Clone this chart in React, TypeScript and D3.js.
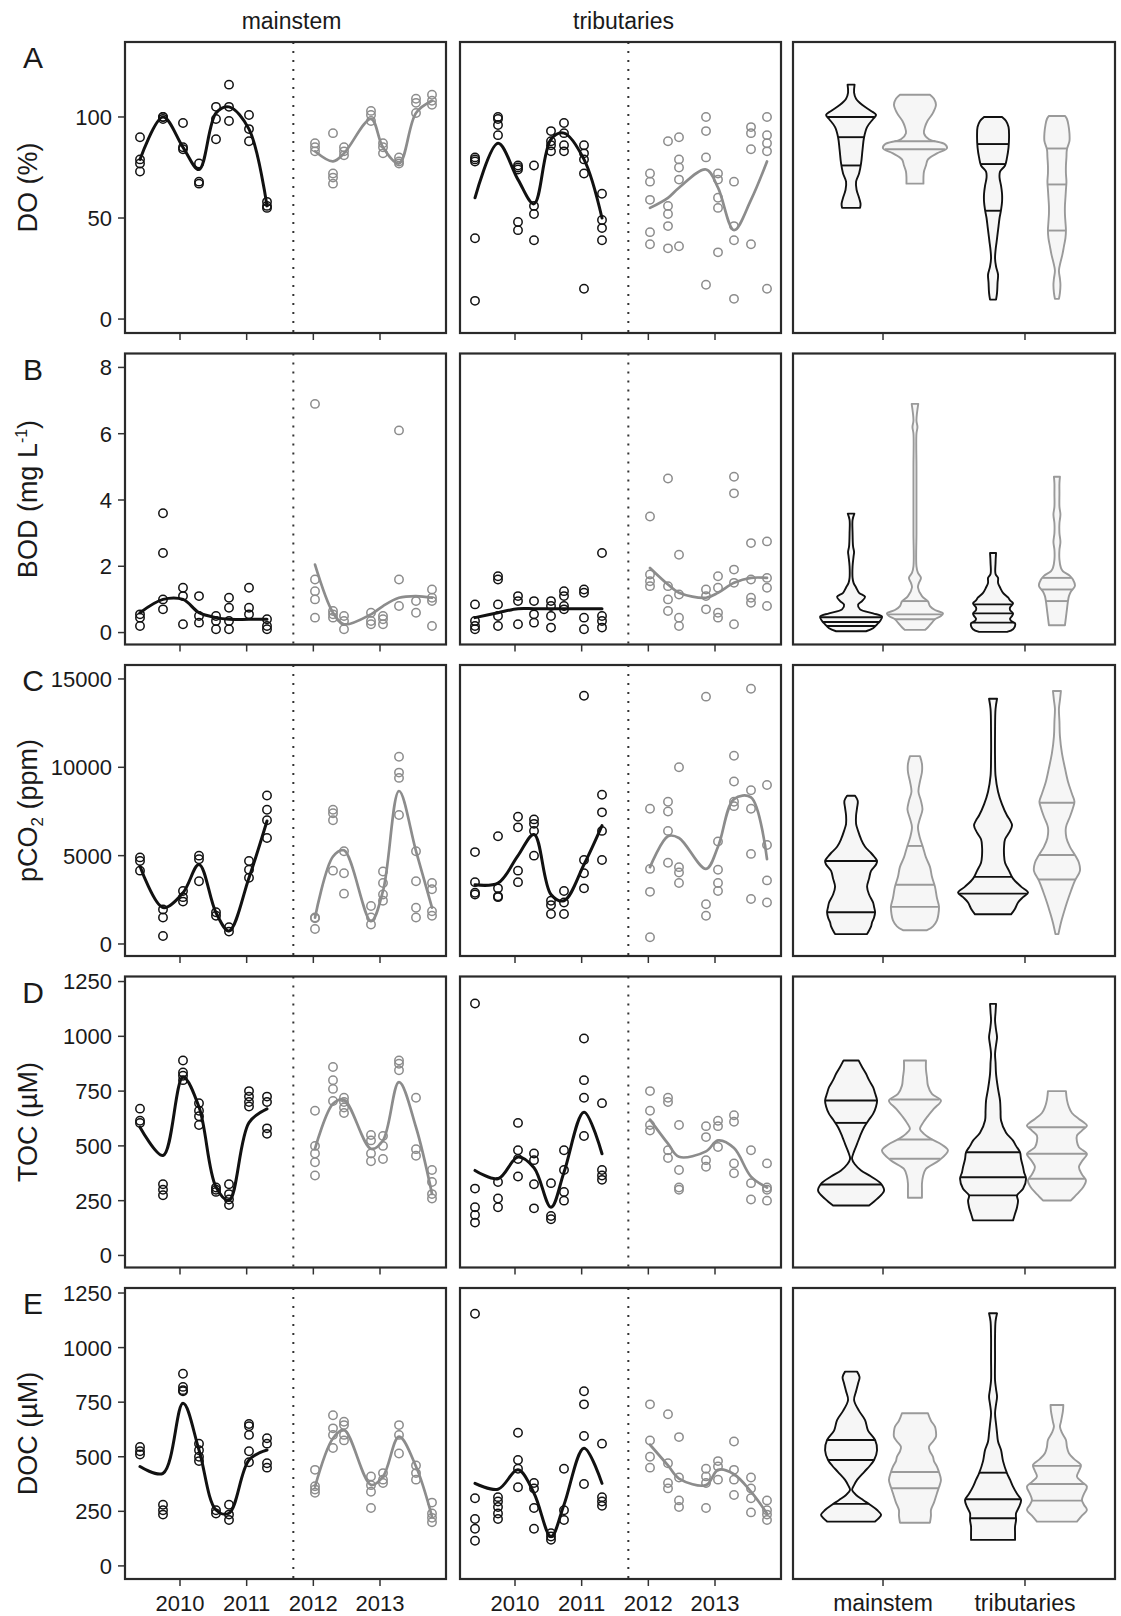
import React from "react";
import * as d3 from "d3";

const FONT = "'Liberation Sans', Arial, Helvetica, sans-serif";

// ---------- shared axes ----------
const datesEarly = [2009.4, 2009.745, 2010.045, 2010.285, 2010.54, 2010.735, 2011.035, 2011.305];
const datesLate = [2012.025, 2012.295, 2012.46, 2012.865, 2013.045, 2013.285, 2013.54, 2013.78];
const yearTicks = [2010, 2011, 2012, 2013];
const timeDomain = [2009.175, 2013.99];
const breakYear = 2011.7;
const siteLabels = ["mainstem", "tributaries"];
const panelLetters = ["A", "B", "C", "D", "E"];

const doTicks = [0, 50, 100];
const bodTicks = [0, 2, 4, 6, 8];
const pco2Ticks = [0, 5000, 10000, 15000];
const tocTicks = [0, 250, 500, 750, 1000, 1250];
const docTicks = [0, 250, 500, 750, 1000, 1250];

const doDomain = [-6.9, 137.1];
const bodDomain = [-0.36, 8.42];
const pco2Domain = [-680, 15790];
const tocDomain = [-55, 1273];
const docDomain = [-60, 1273];

// ---------- DO (%) ----------
const doMsEarly = [[90, 79, 77, 73], [100, 100, 99], [97, 85, 84], [77, 68, 67], [105, 99, 89], [116, 105, 98], [101, 94, 88], [58, 56, 55]];
const doMsEarlyFit = [79, 100, 85, 74, 102, 105, 94, 56];
const doMsLate = [[87, 85, 83], [92, 72, 70, 67], [85, 83, 81], [103, 101, 98], [87, 85, 82], [80, 78, 77], [109, 107, 102], [111, 108, 106]];
const doMsLateFit = [83, 78, 82, 99, 85, 77, 102, 108];
const doTrEarly = [[80, 79, 78, 40, 9], [100, 99, 96, 91], [76, 75, 74, 48, 44], [76, 56, 52, 39], [93, 88, 86, 83], [97, 92, 86, 83], [86, 82, 79, 72, 15], [62, 49, 45, 39]];
const doTrEarlyFit = [60, 87, 69, 57, 89, 92, 79, 50];
const doTrLate = [[72, 68, 59, 43, 37], [88, 56, 52, 46, 35], [90, 79, 75, 69, 36], [100, 93, 80, 17], [72, 69, 60, 55, 33], [68, 46, 39, 10], [95, 92, 84, 37], [100, 91, 87, 83, 15]];
const doTrLateFit = [55, 60, 65, 74, 65, 44, 59, 78];

// ---------- BOD (mg/L) ----------
const bodMsEarly = [[0.55, 0.45, 0.2], [3.6, 2.4, 1.0, 0.7], [1.35, 1.1, 0.25], [1.1, 0.5, 0.3], [0.5, 0.35, 0.1], [1.05, 0.75, 0.35, 0.1], [1.35, 0.75, 0.55], [0.4, 0.2, 0.1]];
const bodMsEarlyFit = [0.6, 1.0, 1.0, 0.6, 0.45, 0.4, 0.4, 0.4];
const bodMsLate = [[6.9, 1.6, 1.25, 1.0, 0.45], [0.65, 0.55, 0.45], [0.5, 0.35, 0.1], [0.6, 0.35, 0.25], [0.5, 0.4, 0.25], [6.1, 1.6, 0.8], [0.95, 0.6], [1.3, 1.05, 0.95, 0.2]];
const bodMsLateFit = [2.05, 0.6, 0.25, 0.55, 0.8, 1.05, 1.1, 1.05];
const bodTrEarly = [[0.85, 0.35, 0.2, 0.1], [1.7, 1.6, 0.85, 0.5, 0.2], [1.1, 0.95, 0.25], [0.95, 0.55, 0.3], [0.95, 0.8, 0.5, 0.15], [1.25, 1.1, 0.8, 0.7], [1.3, 1.2, 0.45, 0.1], [2.4, 0.5, 0.35, 0.15]];
const bodTrEarlyFit = [0.45, 0.6, 0.72, 0.72, 0.72, 0.72, 0.72, 0.72];
const bodTrLate = [[3.5, 1.75, 1.55, 1.4], [4.65, 1.4, 1.0, 0.65], [2.35, 1.15, 0.45, 0.2], [1.3, 1.1, 0.7], [1.7, 1.35, 0.6, 0.45], [4.7, 4.2, 1.9, 1.5, 0.25], [2.7, 1.6, 1.05, 0.9], [2.75, 1.65, 1.35, 0.8]];
const bodTrLateFit = [1.95, 1.45, 1.2, 1.05, 1.2, 1.5, 1.65, 1.65];

// ---------- pCO2 (ppm) ----------
const pcMsEarly = [[4900, 4700, 4150], [1950, 1500, 450], [3000, 2650, 2400], [5000, 4800, 3550], [1800, 1600], [950, 700], [4700, 4200, 3750], [8400, 7600, 7000, 6000]];
const pcMsEarlyFit = [4400, 2060, 2900, 4500, 1770, 740, 3750, 6960];
const pcMsLate = [[1500, 1450, 850], [7600, 7400, 7000, 4150], [5250, 4000, 2850], [2150, 1500, 1100], [4100, 3450, 2800, 2450], [10600, 9700, 9400, 7300], [5250, 3550, 2050, 1500], [3450, 3100, 1850, 1600]];
const pcMsLateFit = [1490, 4950, 5300, 1300, 3000, 8660, 5260, 2060];
const pcTrEarly = [[5200, 3500, 2900, 2800], [6100, 3150, 2700, 2650], [7200, 6600, 4150, 3500], [7050, 6800, 6400, 5000], [2450, 2200, 1700], [3000, 2350, 1700], [14050, 4750, 4000, 3150], [8450, 7450, 6400, 4750]];
const pcTrEarlyFit = [3350, 3450, 5000, 6200, 2800, 2450, 4500, 6700];
const pcTrLate = [[7650, 4250, 2950, 380], [8050, 7500, 6400, 4600], [10000, 4350, 4050, 3450], [14000, 2250, 1600], [5800, 4200, 3450, 3000], [10650, 9200, 8050, 7800], [14450, 8700, 7650, 5100, 2550], [9000, 5600, 3600, 2350]];
const pcTrLateFit = [4350, 6100, 6000, 4250, 5500, 8200, 8300, 4800];

// ---------- TOC (uM) ----------
const tocMsEarly = [[670, 615, 605], [325, 300, 275], [890, 835, 820, 800], [695, 660, 635, 595], [310, 300, 290], [325, 280, 255, 230], [750, 725, 700, 680], [725, 700, 580, 555]];
const tocMsEarlyFit = [585, 456, 813, 677, 312, 251, 606, 669];
const tocMsLate = [[660, 500, 465, 425, 365], [860, 800, 760, 705], [720, 700, 675, 650], [550, 525, 465, 430], [545, 500, 440], [890, 875, 845], [720, 485, 455], [390, 335, 280, 260]];
const tocMsLateFit = [487, 692, 710, 487, 525, 791, 585, 281];
const tocTrEarly = [[1150, 305, 220, 185, 150], [335, 260, 220], [605, 480, 440, 360], [465, 435, 325, 215], [330, 180, 165], [480, 390, 290, 250], [990, 800, 720, 545], [695, 390, 365, 345]];
const tocTrEarlyFit = [388, 350, 449, 400, 220, 380, 654, 464];
const tocTrLate = [[750, 660, 595, 570], [720, 700, 480, 445], [595, 390, 310, 300], [590, 540, 435, 405], [615, 590, 495], [640, 610, 420, 375], [480, 330, 255], [420, 310, 300, 250]];
const tocTrLateFit = [620, 510, 450, 475, 525, 490, 360, 310];

// ---------- DOC (uM) ----------
const docMsEarly = [[545, 525, 510], [280, 255, 235], [880, 820, 805, 800], [560, 530, 500, 480], [255, 240], [280, 235, 210], [650, 640, 600, 525, 475], [585, 560, 470, 450]];
const docMsEarlyFit = [455, 424, 745, 531, 256, 241, 485, 531];
const docMsLate = [[440, 365, 350, 335], [690, 630, 600, 540], [660, 645, 600, 575], [410, 370, 340, 265], [425, 395, 380], [645, 600, 515], [460, 425, 395], [290, 240, 220, 200]];
const docMsLateFit = [363, 585, 623, 371, 409, 592, 455, 226];
const docTrEarly = [[1155, 310, 215, 170, 115], [315, 295, 270, 240, 215], [610, 485, 445, 360], [380, 355, 265, 170], [150, 135, 120], [445, 255, 210], [800, 740, 595, 375], [560, 315, 295, 275]];
const docTrEarlyFit = [378, 351, 440, 333, 134, 280, 539, 378];
const docTrLate = [[740, 575, 500, 450], [695, 470, 380, 355], [590, 405, 300, 270], [445, 410, 380, 265], [480, 455, 395], [570, 440, 395, 325], [405, 355, 310, 245], [300, 255, 235, 210]];
const docTrLateFit = [555, 460, 400, 370, 440, 420, 340, 240];

// ---------- violins: [value, relative density], quartile lines ----------
const vDoMsE = [[55, 9], [57, 9.5], [60, 8], [64, 5.5], [68, 5], [72, 8], [77, 10], [84, 11.5], [90, 13], [95, 16], [99, 22], [101, 25], [103, 20], [106, 11], [109, 5], [112, 3], [116, 3.5]];
const qDoMsE = [76, 90, 100];
const vDoMsL = [[67, 8.5], [70, 8.5], [73, 9], [76, 11], [79, 13], [82, 22], [84.5, 32], [86.5, 30], [89, 14], [92, 9], [95, 10], [98, 12.5], [102, 18], [106, 21], [109, 19], [111, 15]];
const qDoMsL = [84, 88];
const vDoTrE = [[9.6, 3], [13, 4], [18, 4.5], [22, 5], [26, 3], [30, 2], [34, 2.5], [38, 3.5], [42, 4.5], [46, 5.5], [50, 6.5], [54, 8], [58, 9], [62, 9], [66, 8], [70, 6.5], [73, 7], [76, 12], [80, 14], [85, 15.5], [90, 16], [95, 15.5], [98, 13], [100, 9]];
const qDoTrE = [53.6, 76.7, 86.6];
const vDoTrL = [[10, 2], [13, 3], [17, 3.5], [20, 3], [24, 2], [28, 3.5], [32, 5.5], [36, 7], [40, 8.5], [44, 9], [48, 8.5], [52, 8], [56, 8], [60, 8.5], [64, 9], [68, 9.5], [72, 9], [76, 9], [80, 9.5], [84, 10], [88, 12.5], [92, 12.5], [96, 11.5], [99, 10], [100.5, 8]];
const qDoTrL = [43.8, 66.6, 84.4];

const vBodMsE = [[0.04, 15], [0.13, 22], [0.25, 26], [0.35, 29], [0.48, 31], [0.58, 22], [0.7, 9], [0.84, 7], [0.95, 11], [1.08, 14], [1.2, 8], [1.36, 5], [1.5, 2.5], [1.65, 1.5], [2.0, 1.5], [2.3, 2.5], [2.43, 3], [2.6, 2], [3.0, 1.5], [3.4, 1.5], [3.59, 3.3]];
const qBodMsE = [0.2, 0.32, 0.46];
const vBodMsL = [[0.08, 10], [0.16, 13], [0.3, 17], [0.4, 20], [0.5, 26], [0.58, 28], [0.68, 20], [0.8, 15], [0.94, 13], [1.1, 7], [1.36, 3], [1.5, 4], [1.65, 6], [1.8, 3], [2.0, 1.5], [3, 1.5], [4, 1.5], [5, 1.5], [6.0, 1.5], [6.2, 2.5], [6.4, 1.5], [6.9, 3.3]];
const qBodMsL = [0.4, 0.55, 0.95];
const vBodTrE = [[0.02, 14], [0.1, 20], [0.2, 22], [0.28, 22], [0.35, 18], [0.42, 17], [0.5, 19], [0.58, 20], [0.68, 17], [0.76, 17], [0.88, 20], [0.97, 17], [1.06, 15], [1.2, 10], [1.36, 7], [1.5, 5], [1.65, 5], [1.77, 2.5], [2.1, 2.5], [2.4, 3]];
const qBodTrE = [0.3, 0.58, 0.85];
const vBodTrL = [[0.22, 8], [0.46, 9], [0.7, 10], [0.94, 11], [1.1, 12], [1.24, 14], [1.41, 18], [1.6, 16], [1.71, 13], [1.85, 6], [1.95, 4], [2.2, 2.5], [2.5, 2.5], [2.73, 3.5], [3.0, 2.5], [3.3, 2.5], [3.56, 3.5], [3.8, 2.5], [4.2, 2.5], [4.5, 2.5], [4.7, 3]];
const qBodTrL = [0.95, 1.3, 1.65];

const vPcMsE = [[560, 16], [1000, 20], [1230, 21], [1500, 23], [1790, 24], [2100, 23], [2350, 22], [2800, 18], [3245, 16], [3700, 18], [4140, 20], [4500, 25], [4700, 26], [4950, 23], [5150, 20], [5500, 14], [5930, 10], [6400, 7], [6800, 5], [7270, 5], [7700, 6], [8100, 6.7], [8390, 4]];
const qPcMsE = [1800, 4700];
const vPcMsL = [[780, 12], [1000, 18], [1340, 22], [1700, 23.5], [2125, 24], [2600, 22], [3245, 20], [3800, 17], [4365, 15], [4900, 11], [5480, 8], [6000, 5], [6600, 3], [7100, 5], [7610, 7.5], [8100, 6], [8620, 3.5], [9200, 5], [9735, 7], [10200, 7], [10630, 5]];
const qPcMsL = [2100, 3350, 5550];
const vPcTrE = [[1680, 18], [2000, 22], [2350, 25], [2650, 30], [2910, 35], [3245, 28], [3700, 20], [4140, 16], [4600, 12], [5040, 11], [5500, 11], [5930, 12], [6300, 16], [6710, 19], [7000, 17], [7270, 14], [7900, 9], [8620, 5], [9510, 2.5], [10500, 2], [12000, 2], [13300, 2.5], [13880, 4]];
const qPcTrE = [2850, 3800];
const vPcTrL = [[560, 1.5], [1200, 4], [1800, 7], [2350, 10], [3000, 14], [3580, 18], [4140, 23], [4600, 22], [5040, 18], [5500, 13], [6000, 9.5], [6600, 9], [7200, 13], [7700, 16], [8060, 17.5], [8500, 15], [9200, 11], [9960, 8], [10800, 5], [11750, 3], [12600, 2.5], [13320, 2], [13800, 3], [14320, 4]];
const qPcTrL = [3650, 5040, 7990];

const vTocMsE = [[228, 18], [258, 26], [296, 33], [327, 30], [360, 20], [388, 10], [415, 4], [441, 1], [475, 3], [509, 6], [545, 9], [585, 13], [620, 18], [646, 22], [680, 25], [707, 26], [740, 24], [768, 22], [800, 18], [829, 15], [860, 11], [890, 7.5]];
const qTocMsE = [324, 605, 707];
const vTocMsL = [[263, 7], [300, 7], [327, 7], [360, 8], [395, 11], [433, 24], [479, 33], [505, 27], [532, 16], [555, 9], [578, 5], [605, 8], [631, 12], [670, 19], [707, 26], [737, 17], [775, 13], [813, 12], [850, 11], [890, 11]];
const qTocMsL = [441, 529, 712];
const vTocTrE = [[160, 20], [190, 22], [220, 24], [250, 25], [274, 24], [304, 30], [350, 33], [380, 31], [403, 30], [440, 28], [471, 27], [500, 23], [524, 20], [560, 13], [616, 8], [660, 7.5], [707, 7], [760, 5], [829, 3], [880, 2.5], [920, 2], [960, 3], [996, 4], [1030, 3], [1072, 2], [1110, 2.5], [1148, 3]];
const qTocTrE = [274, 357, 471];
const vTocTrL = [[251, 14], [270, 18], [289, 22], [310, 26], [342, 29], [370, 25], [403, 22], [430, 25], [464, 30], [480, 26], [494, 22], [520, 20], [547, 20], [570, 25], [593, 30], [610, 26], [623, 22], [650, 15], [677, 12], [710, 10], [750, 9]];
const qTocTrL = [350, 464, 585];

const vDocMsE = [[203, 24], [220, 28], [234, 30], [256, 26], [280, 19], [302, 12], [325, 5], [348, 1], [370, 3], [394, 6], [430, 13], [460, 19], [485, 23], [530, 26], [577, 24], [620, 17], [668, 14], [710, 8], [760, 3], [800, 5], [836, 7], [865, 8.5], [890, 6]];
const qDocMsE = [284, 485, 577];
const vDocMsL = [[198, 15], [230, 16], [256, 16], [290, 19], [333, 22], [360, 24], [394, 26], [430, 24], [455, 22], [480, 19], [500, 18], [525, 15], [546, 14], [570, 18], [592, 21], [615, 21], [638, 20], [665, 16], [699, 13]];
const qDocMsL = [356, 430];
const vDocTrE = [[119, 22], [150, 22], [180, 22], [210, 23], [241, 23], [270, 26], [302, 28], [330, 24], [363, 20], [395, 17], [424, 14], [480, 10], [531, 8], [570, 5], [608, 4], [650, 3], [699, 2], [740, 3], [775, 4], [810, 3], [850, 2], [950, 2], [1050, 2], [1120, 2.5], [1157, 4]];
const qDocTrE = [218, 305, 427];
const vDocTrL = [[203, 20], [230, 25], [256, 30], [280, 27], [302, 25], [330, 27], [363, 30], [385, 25], [409, 20], [435, 22], [462, 24], [490, 17], [516, 12], [545, 10], [577, 9], [610, 5], [638, 3], [660, 4], [684, 5], [710, 6], [737, 6.4]];
const qDocTrL = [299, 375, 458];

// ---------- row table built from the arrays ----------
const rows = [
  { domain: doDomain, ticks: doTicks,
    ms: [doMsEarly, doMsEarlyFit, doMsLate, doMsLateFit], tr: [doTrEarly, doTrEarlyFit, doTrLate, doTrLateFit],
    vio: [[vDoMsE, qDoMsE], [vDoMsL, qDoMsL], [vDoTrE, qDoTrE], [vDoTrL, qDoTrL]] },
  { domain: bodDomain, ticks: bodTicks,
    ms: [bodMsEarly, bodMsEarlyFit, bodMsLate, bodMsLateFit], tr: [bodTrEarly, bodTrEarlyFit, bodTrLate, bodTrLateFit],
    vio: [[vBodMsE, qBodMsE], [vBodMsL, qBodMsL], [vBodTrE, qBodTrE], [vBodTrL, qBodTrL]] },
  { domain: pco2Domain, ticks: pco2Ticks,
    ms: [pcMsEarly, pcMsEarlyFit, pcMsLate, pcMsLateFit], tr: [pcTrEarly, pcTrEarlyFit, pcTrLate, pcTrLateFit],
    vio: [[vPcMsE, qPcMsE], [vPcMsL, qPcMsL], [vPcTrE, qPcTrE], [vPcTrL, qPcTrL]] },
  { domain: tocDomain, ticks: tocTicks,
    ms: [tocMsEarly, tocMsEarlyFit, tocMsLate, tocMsLateFit], tr: [tocTrEarly, tocTrEarlyFit, tocTrLate, tocTrLateFit],
    vio: [[vTocMsE, qTocMsE], [vTocMsL, qTocMsL], [vTocTrE, qTocTrE], [vTocTrL, qTocTrL]] },
  { domain: docDomain, ticks: docTicks,
    ms: [docMsEarly, docMsEarlyFit, docMsLate, docMsLateFit], tr: [docTrEarly, docTrEarlyFit, docTrLate, docTrLateFit],
    vio: [[vDocMsE, qDocMsE], [vDocMsL, qDocMsL], [vDocTrE, qDocTrE], [vDocTrL, qDocTrL]] },
];

// ---------- layout ----------
const W = 1121;
const H = 1616;
const colX = [125, 460, 793];
const colW = [321, 321, 322];
const rowTop0 = 42;
const rowPitch = 311.5;
const rowH = 291;

const BLACK = "#111";
const GRAY = "#8c8c8c";
const TXT = "#1a1a1a";

function YTitle({ i, x, y }: { i: number; x: number; y: number }) {
  const common = { transform: `translate(${x},${y}) rotate(-90)`, textAnchor: "middle" as const, fontSize: 27, fontFamily: FONT, fill: TXT };
  if (i === 0) return <text {...common}>DO (%)</text>;
  if (i === 1)
    return (
      <text {...common}>
        BOD (mg L<tspan dy={-10} fontSize={16}>-1</tspan><tspan dy={10}>)</tspan>
      </text>
    );
  if (i === 2)
    return (
      <text {...common}>
        pCO<tspan dy={6} fontSize={17}>2</tspan><tspan dy={-6}> (ppm)</tspan>
      </text>
    );
  if (i === 3) return <text {...common}>TOC (µM)</text>;
  return <text {...common}>DOC (µM)</text>;
}

function widthAt(profile: number[][], q: number) {
  for (let k = 0; k < profile.length - 1; k++) {
    const a = profile[k], b = profile[k + 1];
    if (q >= a[0] && q <= b[0]) {
      const t = (q - a[0]) / (b[0] - a[0]);
      return a[1] + t * (b[1] - a[1]);
    }
  }
  return profile[profile.length - 1][1];
}

function TimePanel({ x0, w, top, series, y, showYears }: any) {
  const x = d3.scaleLinear().domain(timeDomain).range([x0, x0 + w]);
  const line = d3
    .line<number[]>()
    .x((d) => x(d[0]))
    .y((d) => y(d[1]))
    .curve(d3.curveCatmullRom.alpha(0.5));
  const [pE, fE, pL, fL] = series;
  const groups = [
    { dates: datesEarly, pts: pE, fit: fE, color: BLACK, lw: 3 },
    { dates: datesLate, pts: pL, fit: fL, color: GRAY, lw: 2.7 },
  ];
  const bottom = top + rowH;
  return (
    <g>
      <line x1={x(breakYear)} x2={x(breakYear)} y1={top} y2={bottom} stroke="#333" strokeWidth={2} strokeDasharray="2,7" />
      {groups.map((g, gi) => (
        <g key={gi}>
          {g.pts.map((vals: number[], i: number) =>
            vals.map((v: number, j: number) => (
              <circle key={`${i}-${j}`} cx={x(g.dates[i])} cy={y(v)} r={4.2} fill="none" stroke={g.color} strokeWidth={1.5} />
            ))
          )}
          <path d={line(g.dates.map((d: number, i: number) => [d, g.fit[i]])) || ""} fill="none" stroke={g.color} strokeWidth={g.lw} strokeLinejoin="round" strokeLinecap="round" />
        </g>
      ))}
      {yearTicks.map((t) => (
        <g key={t}>
          <line x1={x(t)} x2={x(t)} y1={bottom} y2={bottom + 7} stroke="#333" strokeWidth={1.5} />
          {showYears && (
            <text x={x(t)} y={1611} textAnchor="middle" fontSize={22} fontFamily={FONT} fill={TXT}>
              {t}
            </text>
          )}
        </g>
      ))}
      <rect x={x0} y={top} width={w} height={rowH} fill="none" stroke="#2a2a2a" strokeWidth={2.2} />
    </g>
  );
}

function ViolinPanel({ x0, w, top, vio, y, showLabels }: any) {
  const xp = d3.scalePoint<string>().domain(siteLabels).range([x0, x0 + w]).padding(0.634);
  const dodge = xp.step() * 0.225;
  const wScale = d3.scaleLinear().domain([0, 35]).range([0, 35]);
  const bottom = top + rowH;
  return (
    <g>
      {vio.map((v: any, k: number) => {
        const site = siteLabels[k < 2 ? 0 : 1];
        const c = (xp(site) as number) + (k % 2 === 0 ? -dodge : dodge);
        const color = k % 2 === 0 ? BLACK : "#9a9a9a";
        const [profile, qs] = v;
        const area = d3
          .area<number[]>()
          .y((d) => y(d[0]))
          .x0((d) => c - wScale(d[1]))
          .x1((d) => c + wScale(d[1]))
          .curve(d3.curveCatmullRom.alpha(0.5));
        return (
          <g key={k}>
            <path d={area(profile) || ""} fill="#f6f6f6" stroke={color} strokeWidth={1.9} strokeLinejoin="round" />
            {qs.map((q: number, qi: number) => {
              const hw = wScale(widthAt(profile, q));
              return <line key={qi} x1={c - hw} x2={c + hw} y1={y(q)} y2={y(q)} stroke={color} strokeWidth={1.9} />;
            })}
          </g>
        );
      })}
      {siteLabels.map((s) => (
        <g key={s}>
          <line x1={xp(s)} x2={xp(s)} y1={bottom} y2={bottom + 7} stroke="#333" strokeWidth={1.5} />
          {showLabels && (
            <text x={xp(s)} y={1611} textAnchor="middle" fontSize={23} fontFamily={FONT} fill={TXT}>
              {s}
            </text>
          )}
        </g>
      ))}
      <rect x={x0} y={top} width={w} height={rowH} fill="none" stroke="#2a2a2a" strokeWidth={2.2} />
    </g>
  );
}

export default function App() {
  return (
    <div style={{ position: "absolute", left: 0, top: 0 }}>
      <svg width={W} height={H} viewBox={`0 0 ${W} ${H}`} style={{ display: "block", background: "#fff" }}>
        <rect x={0} y={0} width={W} height={H} fill="#fff" />
        <text x={colX[0] + colW[0] / 2 + 6} y={29} textAnchor="middle" fontSize={23} fontFamily={FONT} fill={TXT}>
          mainstem
        </text>
        <text x={colX[1] + colW[1] / 2 + 3} y={29} textAnchor="middle" fontSize={23} fontFamily={FONT} fill={TXT}>
          tributaries
        </text>
        {rows.map((r, i) => {
          const top = rowTop0 + i * rowPitch;
          const y = d3.scaleLinear().domain(r.domain).range([top + rowH, top]);
          const last = i === rows.length - 1;
          return (
            <g key={i}>
              <text x={33} y={top + 26} textAnchor="middle" fontSize={30} fontFamily={FONT} fill={TXT}>
                {panelLetters[i]}
              </text>
              <YTitle i={i} x={37} y={top + rowH / 2} />
              {r.ticks.map((t) => (
                <g key={t}>
                  <line x1={colX[0] - 7} x2={colX[0]} y1={y(t)} y2={y(t)} stroke="#333" strokeWidth={1.5} />
                  <text x={colX[0] - 13} y={y(t)} dy="0.36em" textAnchor="end" fontSize={22} fontFamily={FONT} fill={TXT}>
                    {t}
                  </text>
                </g>
              ))}
              <TimePanel x0={colX[0]} w={colW[0]} top={top} series={r.ms} y={y} showYears={last} />
              <TimePanel x0={colX[1]} w={colW[1]} top={top} series={r.tr} y={y} showYears={last} />
              <ViolinPanel x0={colX[2]} w={colW[2]} top={top} vio={r.vio} y={y} showLabels={last} />
            </g>
          );
        })}
      </svg>
    </div>
  );
}
